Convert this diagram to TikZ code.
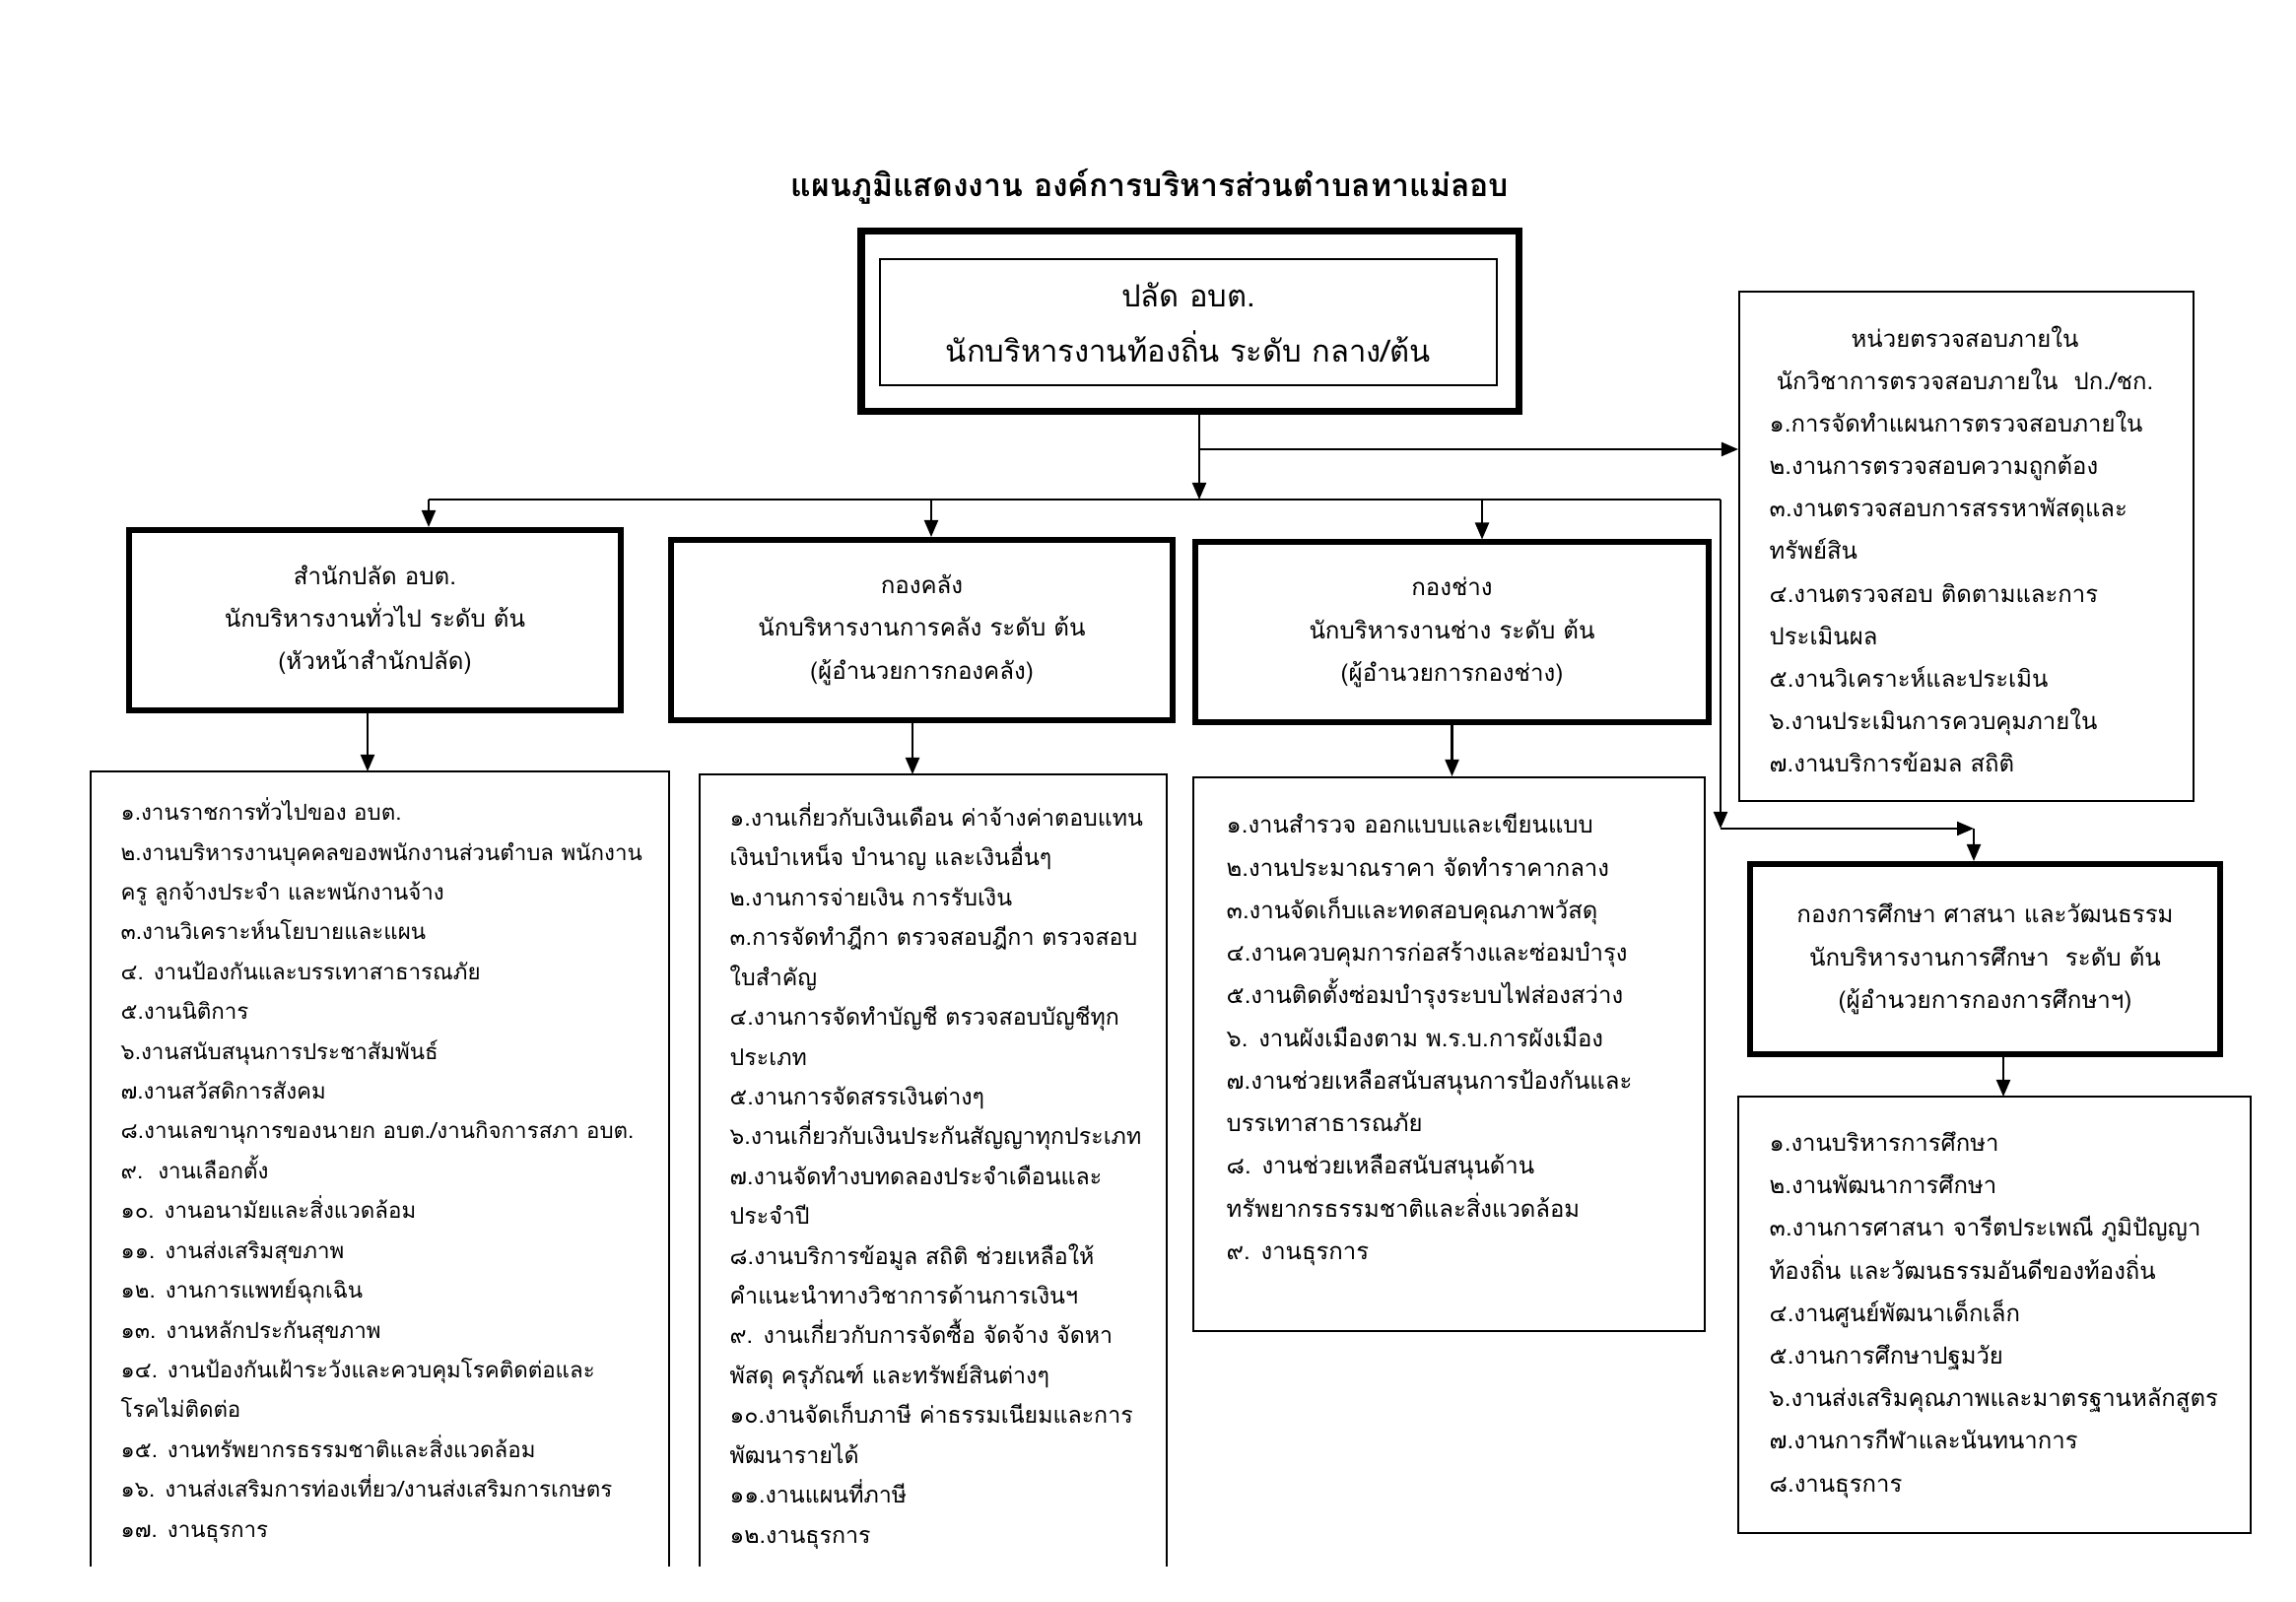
\documentclass[tikz,border=0pt]{standalone}
\usepackage{fontspec}
\newfontfamily\thaifont[Script=Thai]{Loma}
\usetikzlibrary{arrows.meta,positioning,calc}
\newcommand\titlefont{\thaifont\bfseries\fontsize{9.1}{12}\selectfont}
\newcommand\topfont{\thaifont\fontsize{8.8}{16}\selectfont}
\newcommand\headfont{\thaifont\fontsize{6.85}{12.3}\selectfont}
\newcommand\listfont{\thaifont\fontsize{6.8}{12.3}\selectfont}

\begin{document}
\begin{tikzpicture}[
  topbox/.style={rectangle,draw,line width=2pt,minimum width=6.67cm,minimum height=1.83cm},
  innerbox/.style={rectangle,draw,line width=0.6pt,minimum width=6.26cm,minimum height=1.28cm,align=center,font=\topfont},
  headbox/.style={rectangle,draw,line width=1.7pt,minimum height=1.83cm,align=center,font=\headfont},
  listframe/.style={rectangle,draw,line width=0.6pt},
  listtext/.style={inner sep=0pt,align=left,anchor=north west,font=\listfont},
  arr/.style={-{Triangle[length=1.7mm,width=1.4mm]},line width=0.6pt}
]
\useasboundingbox (0,0) rectangle (23.3,16.26);

% title
\node[font=\titlefont] (title) at (11.67,14.37) {แผนภูมิแสดงงาน องค์การบริหารส่วนตำบลทาแม่ลอบ};

% top level
\node[topbox] (topbox) at (12.075,12.995) {};
\node[innerbox] (chief) at (12.06,12.99) {ปลัด อบต.\\นักบริหารงานท้องถิ่น ระดับ กลาง/ต้น};

% internal audit unit
\node[listframe,minimum width=4.61cm,minimum height=5.17cm] (auditbox) at (19.955,10.715) {};
\node[inner sep=0pt,align=center,font=\listfont,anchor=north] (audithead) at (19.94,12.96) {หน่วยตรวจสอบภายใน\\นักวิชาการตรวจสอบภายใน~~ปก./ชก.};
\node[listtext] (audititems) at (17.95,12.10) {%
๑.การจัดทำแผนการตรวจสอบภายใน\\
๒.งานการตรวจสอบความถูกต้อง\\
๓.งานตรวจสอบการสรรหาพัสดุและ\\
ทรัพย์สิน\\
๔.งานตรวจสอบ ติดตามและการ\\
ประเมินผล\\
๕.งานวิเคราะห์และประเมิน\\
๖.งานประเมินการควบคุมภายใน\\
๗.งานบริการข้อมล สถิติ};

% divisions
\node[headbox,minimum width=4.99cm] (adminbox) at (3.805,9.965) {สำนักปลัด อบต.\\นักบริหารงานทั่วไป ระดับ ต้น\\(หัวหน้าสำนักปลัด)};
\node[headbox,minimum width=5.09cm] (financebox) at (9.355,9.865) {กองคลัง\\นักบริหารงานการคลัง ระดับ ต้น\\(ผู้อำนวยการกองคลัง)};
\node[headbox,minimum width=5.21cm] (worksbox) at (14.735,9.84) {กองช่าง\\นักบริหารงานช่าง ระดับ ต้น\\(ผู้อำนวยการกองช่าง)};
\node[headbox,minimum width=4.77cm,minimum height=1.93cm] (edbox) at (20.145,6.525) {กองการศึกษา ศาสนา และวัฒนธรรม\\นักบริหารงานการศึกษา~~ระดับ ต้น\\(ผู้อำนวยการกองการศึกษาฯ)};

% task lists
\coordinate (adminTL) at (0.92,8.43);
\coordinate (adminTR) at (6.79,8.43);
\coordinate (pagebot) at (0,0.36);
\draw[line width=0.6pt] (adminTL |- pagebot) -- (adminTL) -- (adminTR) -- (adminTR |- pagebot);
\node[listtext,font=\thaifont\fontsize{6.35}{11.5}\selectfont] (adminlist) at (1.22,8.17) {%
๑.งานราชการทั่วไปของ อบต.\\
๒.งานบริหารงานบุคคลของพนักงานส่วนตำบล พนักงาน\\
ครู ลูกจ้างประจำ และพนักงานจ้าง\\
๓.งานวิเคราะห์นโยบายและแผน\\
๔. งานป้องกันและบรรเทาสาธารณภัย\\
๕.งานนิติการ\\
๖.งานสนับสนุนการประชาสัมพันธ์\\
๗.งานสวัสดิการสังคม\\
๘.งานเลขานุการของนายก อบต./งานกิจการสภา อบต.\\
๙.~~งานเลือกตั้ง\\
๑๐. งานอนามัยและสิ่งแวดล้อม\\
๑๑. งานส่งเสริมสุขภาพ\\
๑๒. งานการแพทย์ฉุกเฉิน\\
๑๓. งานหลักประกันสุขภาพ\\
๑๔. งานป้องกันเฝ้าระวังและควบคุมโรคติดต่อและ\\
โรคไม่ติดต่อ\\
๑๕. งานทรัพยากรธรรมชาติและสิ่งแวดล้อม\\
๑๖. งานส่งเสริมการท่องเที่ยว/งานส่งเสริมการเกษตร\\
๑๗. งานธุรการ};

\coordinate (financeTL) at (7.10,8.40);
\coordinate (financeTR) at (11.84,8.40);
\draw[line width=0.6pt] (financeTL |- pagebot) -- (financeTL) -- (financeTR) -- (financeTR |- pagebot);
\node[listtext,font=\thaifont\fontsize{6.6}{11.5}\selectfont] (financelist) at (7.40,8.12) {%
๑.งานเกี่ยวกับเงินเดือน ค่าจ้างค่าตอบแทน\\
เงินบำเหน็จ บำนาญ และเงินอื่นๆ\\
๒.งานการจ่ายเงิน การรับเงิน\\
๓.การจัดทำฎีกา ตรวจสอบฎีกา ตรวจสอบ\\
ใบสำคัญ\\
๔.งานการจัดทำบัญชี ตรวจสอบบัญชีทุก\\
ประเภท\\
๕.งานการจัดสรรเงินต่างๆ\\
๖.งานเกี่ยวกับเงินประกันสัญญาทุกประเภท\\
๗.งานจัดทำงบทดลองประจำเดือนและ\\
ประจำปี\\
๘.งานบริการข้อมูล สถิติ ช่วยเหลือให้\\
คำแนะนำทางวิชาการด้านการเงินฯ\\
๙. งานเกี่ยวกับการจัดซื้อ จัดจ้าง จัดหา\\
พัสดุ ครุภัณฑ์ และทรัพย์สินต่างๆ\\
๑๐.งานจัดเก็บภาษี ค่าธรรมเนียมและการ\\
พัฒนารายได้\\
๑๑.งานแผนที่ภาษี\\
๑๒.งานธุรการ};

\node[listframe,minimum width=5.19cm,minimum height=5.62cm] (worksframe) at (14.705,5.56) {};
\node[listtext] (workslist) at (12.44,8.01) {%
๑.งานสำรวจ ออกแบบและเขียนแบบ\\
๒.งานประมาณราคา จัดทำราคากลาง\\
๓.งานจัดเก็บและทดสอบคุณภาพวัสดุ\\
๔.งานควบคุมการก่อสร้างและซ่อมบำรุง\\
๕.งานติดตั้งซ่อมบำรุงระบบไฟส่องสว่าง\\
๖. งานผังเมืองตาม พ.ร.บ.การผังเมือง\\
๗.งานช่วยเหลือสนับสนุนการป้องกันและ\\
บรรเทาสาธารณภัย\\
๘. งานช่วยเหลือสนับสนุนด้าน\\
ทรัพยากรธรรมชาติและสิ่งแวดล้อม\\
๙. งานธุรการ};

\node[listframe,minimum width=5.20cm,minimum height=4.43cm] (edframe) at (20.24,2.915) {};
\node[listtext] (edlist) at (17.95,4.78) {%
๑.งานบริหารการศึกษา\\
๒.งานพัฒนาการศึกษา\\
๓.งานการศาสนา จารีตประเพณี ภูมิปัญญา\\
ท้องถิ่น และวัฒนธรรมอันดีของท้องถิ่น\\
๔.งานศูนย์พัฒนาเด็กเล็ก\\
๕.งานการศึกษาปฐมวัย\\
๖.งานส่งเสริมคุณภาพและมาตรฐานหลักสูตร\\
๗.งานการกีฬาและนันทนาการ\\
๘.งานธุรการ};

% connectors
\coordinate (hub) at (12.17,11.19);
\coordinate (split) at (12.17,11.70);
\coordinate (busL) at (4.35,11.19);
\coordinate (busB) at (9.45,11.19);
\coordinate (busC) at (15.04,11.19);
\coordinate (busR) at (17.46,11.19);
\coordinate (edturn) at (17.46,7.85);
\coordinate (edcorner) at (20.03,7.85);
\coordinate (adminarr) at (3.73,8.43);
\coordinate (financearr) at (9.26,8.40);
\coordinate (edarr) at (20.33,5.13);
\draw[arr] (topbox.south -| hub) -- (hub);
\draw[arr] (split) -- (split -| auditbox.west);
\draw[line width=0.6pt] (busL) -- (busR);
\draw[arr] (busL) -- (busL |- adminbox.north);
\draw[arr] (busB) -- (busB |- financebox.north);
\draw[arr] (busC) -- (busC |- worksbox.north);
\draw[arr] (busR) -- (edturn);
\draw[arr] (edturn) -- (edcorner);
\draw[arr] (edcorner) -- (edcorner |- edbox.north);
\draw[arr] (adminarr |- adminbox.south) -- (adminarr);
\draw[arr] (financearr |- financebox.south) -- (financearr);
\draw[arr] (worksbox.south) -- (worksbox.south |- worksframe.north);
\draw[arr] (edarr |- edbox.south) -- (edarr);
\end{tikzpicture}
\end{document}
